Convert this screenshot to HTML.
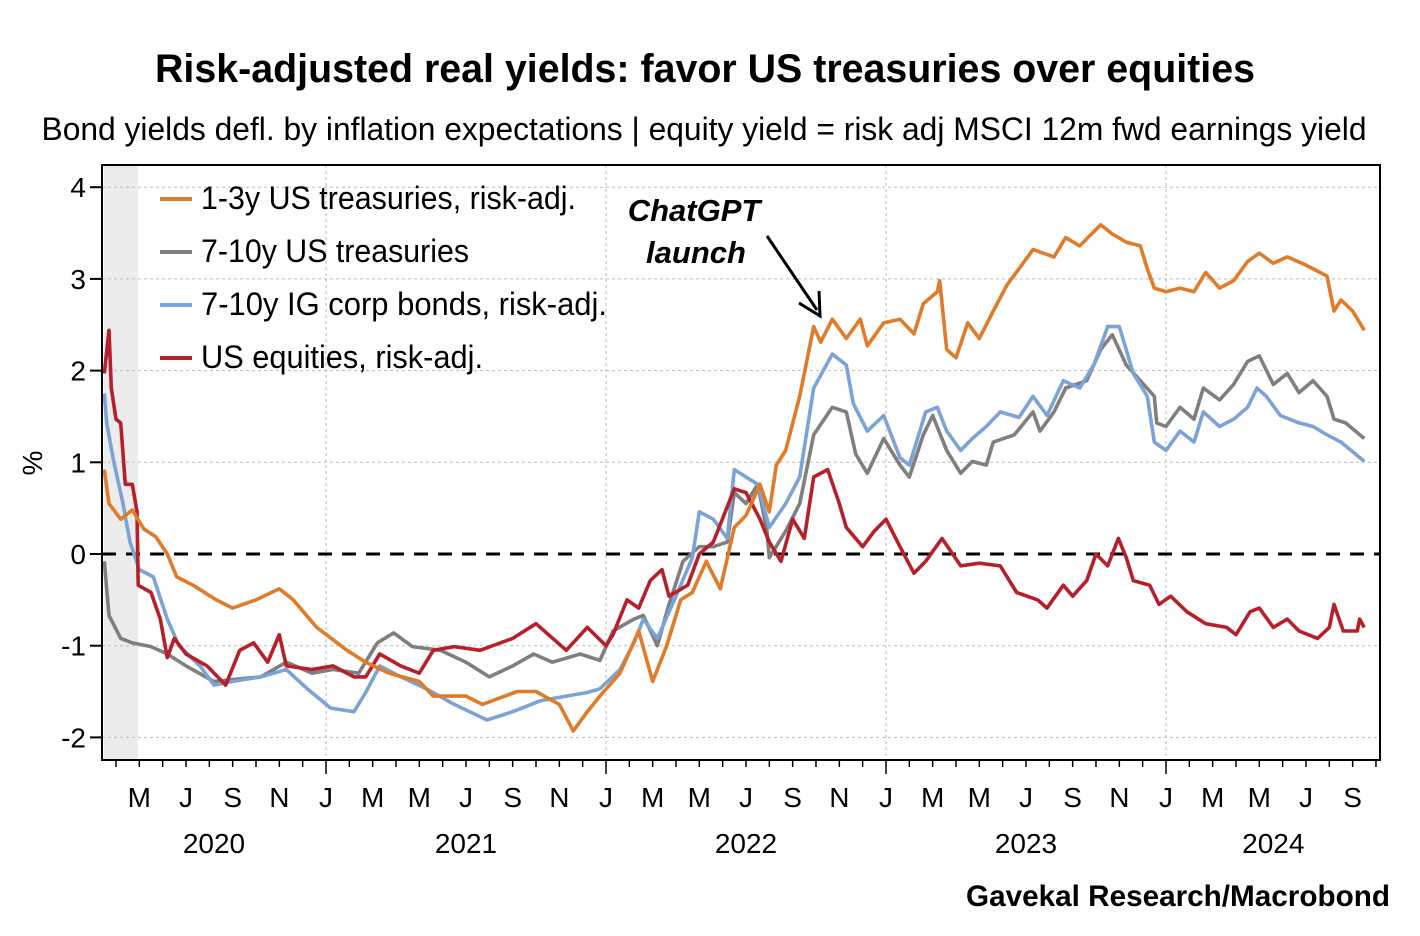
<!DOCTYPE html>
<html><head><meta charset="utf-8">
<style>
html,body{margin:0;padding:0;background:#fff;}
svg{display:block;font-family:"Liberation Sans",sans-serif;}
</style></head>
<body>
<svg id="chart" width="1420" height="936" viewBox="0 0 1420 936" xmlns="http://www.w3.org/2000/svg">
  <text x="705" y="82" text-anchor="middle" font-size="40" font-weight="bold" textLength="1100" lengthAdjust="spacingAndGlyphs">Risk-adjusted real yields: favor US treasuries over equities</text>
  <text x="704" y="140" text-anchor="middle" font-size="32" textLength="1325" lengthAdjust="spacingAndGlyphs">Bond yields defl. by inflation expectations | equity yield = risk adj MSCI 12m fwd earnings yield</text>
  <rect x="104" y="166" width="34" height="593" fill="#ececec"/>
  <g id="grid"></g>
  <g id="axes"></g>
  <g id="series"></g>
  <rect x="102" y="165" width="1278" height="595" fill="none" stroke="#000" stroke-width="2"/>
  <text transform="translate(42,463) rotate(-90)" text-anchor="middle" font-size="28">%</text>
  <g font-size="32">
    <g><line x1="160" y1="199" x2="192" y2="199" stroke="#e07b2a" stroke-width="4"/><text x="201" y="209" textLength="375" lengthAdjust="spacingAndGlyphs">1-3y US treasuries, risk-adj.</text></g>
    <g><line x1="160" y1="252" x2="192" y2="252" stroke="#7f7f7f" stroke-width="4"/><text x="201" y="262" textLength="268" lengthAdjust="spacingAndGlyphs">7-10y US treasuries</text></g>
    <g><line x1="160" y1="305" x2="192" y2="305" stroke="#7ba3d6" stroke-width="4"/><text x="201" y="315" textLength="406" lengthAdjust="spacingAndGlyphs">7-10y IG corp bonds, risk-adj.</text></g>
    <g><line x1="160" y1="358" x2="192" y2="358" stroke="#b5202a" stroke-width="4"/><text x="201" y="368" textLength="282" lengthAdjust="spacingAndGlyphs">US equities, risk-adj.</text></g>
  </g>
  <g>
    <text x="694" y="221" text-anchor="middle" font-size="31" font-weight="bold" font-style="italic">ChatGPT</text>
    <text x="696" y="263" text-anchor="middle" font-size="31" font-weight="bold" font-style="italic">launch</text>
    <line x1="767" y1="236" x2="817" y2="310" stroke="#000" stroke-width="3"/>
    <polyline points="799,303 820,316 819,291" fill="none" stroke="#000" stroke-width="3"/>
  </g>
  <text x="1390" y="906" text-anchor="end" font-size="30" font-weight="bold" textLength="424" lengthAdjust="spacingAndGlyphs">Gavekal Research/Macrobond</text>
</svg>
<script>
// months since Jan 2020
const orangeT = [2.5,2.7,3.2,3.7,4.2,4.7,5.2,5.6,6.3,7.3,8.0,9.0,10.0,10.6,11.6,12.9,13.7,14.7,16.0,16.6,18.0,18.7,20.2,21.0,22.0,22.6,23.2,23.74,24.6,25.4,26.0,26.6,27.2,27.7,28.3,28.9,29.5,30.0,30.6,31.0,31.3,31.7,32.3,32.9,33.2,33.7,34.3,34.9,35.2,35.9,36.6,37.2,37.6,38.2,38.3,38.6,39.0,39.5,40.0,40.6,41.2,41.7,42.3,43.2,43.7,44.3,45.2,45.7,46.3,46.9,47.2,47.5,48.0,48.6,49.2,49.7,50.3,50.9,51.5,52.0,52.6,53.2,54.0,54.9,55.2,55.5,56.0,56.5];
const orangeV = [0.92,0.55,0.38,0.48,0.27,0.19,0.0,-0.25,-0.34,-0.5,-0.59,-0.5,-0.38,-0.5,-0.8,-1.05,-1.18,-1.3,-1.39,-1.55,-1.55,-1.64,-1.5,-1.5,-1.64,-1.93,-1.72,-1.55,-1.3,-0.84,-1.39,-1.0,-0.5,-0.42,-0.08,-0.38,0.29,0.42,0.76,0.46,0.97,1.13,1.72,2.48,2.31,2.56,2.35,2.56,2.27,2.52,2.56,2.4,2.73,2.86,2.98,2.23,2.14,2.52,2.35,2.65,2.94,3.11,3.32,3.24,3.45,3.36,3.59,3.49,3.4,3.36,3.11,2.9,2.86,2.9,2.86,3.07,2.9,2.98,3.19,3.28,3.17,3.24,3.15,3.03,2.65,2.77,2.65,2.44];
const greyT = [2.5,2.7,3.2,3.7,4.5,5.2,6.0,7.2,8.0,9.2,10.3,11.4,12.3,13.4,14.2,14.9,15.7,16.9,18.0,19.0,20.0,20.9,21.7,22.9,23.74,24.3,25.2,25.6,26.2,26.7,27.3,28.0,28.6,29.2,29.5,30.0,30.5,30.9,31.0,31.7,32.3,32.9,33.7,34.3,34.7,35.2,35.9,36.6,37.0,37.6,38.0,38.6,39.2,39.7,40.3,40.6,41.5,42.3,42.6,43.2,43.7,44.6,45.2,45.7,46.3,46.9,47.5,47.6,48.0,48.6,49.2,49.6,50.3,50.9,51.5,52.0,52.6,53.2,53.7,54.3,54.9,55.2,55.7,56.5];
const greyV = [-0.08,-0.67,-0.92,-0.97,-1.01,-1.09,-1.22,-1.39,-1.37,-1.34,-1.18,-1.3,-1.26,-1.3,-0.97,-0.86,-1.01,-1.05,-1.18,-1.34,-1.22,-1.09,-1.18,-1.09,-1.16,-0.84,-0.71,-0.67,-1.0,-0.55,-0.08,0.08,0.08,0.13,0.67,0.55,0.76,0.25,-0.04,0.25,0.55,1.3,1.6,1.55,1.09,0.88,1.26,0.97,0.84,1.3,1.51,1.13,0.88,1.01,0.97,1.22,1.3,1.55,1.34,1.55,1.81,1.89,2.23,2.39,2.06,1.89,1.72,1.43,1.39,1.6,1.47,1.81,1.68,1.85,2.1,2.16,1.85,1.97,1.76,1.89,1.72,1.47,1.43,1.26];
const blueT = [2.5,2.6,2.9,3.3,3.6,4.0,4.6,5.2,5.7,6.6,7.2,8.0,9.2,10.3,11.2,12.2,13.2,13.7,14.3,15.2,16.3,17.5,18.9,20.0,21.2,22.3,23.2,23.74,24.6,25.2,25.6,26.2,27.0,27.7,28.0,28.6,29.2,29.5,30.0,30.5,31.0,31.7,32.3,32.9,33.7,34.3,34.6,35.2,35.9,36.6,37.0,37.7,38.2,38.6,39.2,39.7,40.3,40.9,41.7,42.3,42.9,43.6,44.3,44.9,45.5,46.0,46.6,47.2,47.5,48.0,48.6,49.2,49.6,50.3,50.9,51.5,51.9,52.3,52.9,53.7,54.3,54.9,55.5,56.5];
const blueV = [1.75,1.43,1.01,0.55,0.13,-0.17,-0.25,-0.71,-1.0,-1.22,-1.43,-1.39,-1.34,-1.26,-1.47,-1.68,-1.72,-1.51,-1.22,-1.34,-1.47,-1.64,-1.81,-1.72,-1.6,-1.55,-1.51,-1.47,-1.26,-0.97,-0.71,-0.92,-0.46,-0.04,0.46,0.38,0.17,0.92,0.84,0.76,0.29,0.55,0.84,1.81,2.18,2.06,1.64,1.34,1.51,1.05,0.97,1.55,1.6,1.34,1.13,1.26,1.39,1.55,1.49,1.72,1.51,1.89,1.81,2.06,2.48,2.48,1.97,1.72,1.22,1.13,1.34,1.22,1.55,1.39,1.47,1.6,1.81,1.72,1.51,1.43,1.39,1.3,1.22,1.01];
const redT = [2.5,2.7,2.8,3.0,3.2,3.4,3.7,3.9,3.95,4.5,4.9,5.2,5.5,6.0,6.9,7.7,8.3,8.9,9.5,10.0,10.3,11.4,12.3,13.2,13.7,14.3,15.2,16.0,16.6,17.5,18.6,20.0,21.0,22.3,23.2,24.0,24.3,24.9,25.4,25.9,26.4,26.7,27.5,28.0,28.6,29.5,30.0,30.6,31.0,31.5,32.0,32.5,32.9,33.5,34.0,34.3,35.0,35.5,36.0,36.6,37.2,37.7,38.4,39.2,40.0,40.9,41.6,42.5,42.9,43.6,44.0,44.6,45.0,45.5,45.96,46.3,46.6,47.3,47.7,48.2,48.9,49.7,50.6,51.0,51.6,52.0,52.6,53.2,53.7,54.5,55.0,55.2,55.6,56.2,56.3,56.5];
const redV = [1.97,2.44,1.81,1.47,1.43,0.76,0.76,0.46,-0.34,-0.42,-0.71,-1.13,-0.92,-1.09,-1.22,-1.43,-1.05,-0.97,-1.18,-0.88,-1.22,-1.26,-1.22,-1.34,-1.34,-1.09,-1.22,-1.3,-1.05,-1.01,-1.05,-0.92,-0.76,-1.05,-0.8,-1.0,-0.88,-0.5,-0.59,-0.29,-0.17,-0.46,-0.34,0.0,0.13,0.71,0.67,0.38,0.13,-0.08,0.38,0.17,0.84,0.92,0.55,0.29,0.08,0.25,0.38,0.08,-0.21,-0.08,0.17,-0.13,-0.1,-0.13,-0.42,-0.5,-0.59,-0.34,-0.46,-0.29,0.0,-0.13,0.17,-0.04,-0.29,-0.34,-0.55,-0.46,-0.63,-0.76,-0.8,-0.88,-0.63,-0.59,-0.8,-0.71,-0.84,-0.92,-0.8,-0.55,-0.84,-0.84,-0.71,-0.8];
const yTicks = [-2,-1,0,1,2,3,4];
const yearLabels = ["2020","2021","2022","2023","2024"];
const yearMonth = [7.2,18.0,30.0,42.0,52.6];

const NS = "http://www.w3.org/2000/svg";
const X0=102, X1=1380, Y0=165, Y1=760;
function xs(m){ return 46 + m*23.333; }
function ys(v){ return 554 - v*91.7; }
function mk(tag, attrs, parent){ const e=document.createElementNS(NS,tag); for(const k in attrs) e.setAttribute(k,attrs[k]); parent.appendChild(e); return e; }
const grid=document.getElementById('grid'), axes=document.getElementById('axes'), series=document.getElementById('series');

yTicks.forEach(v=>{
  const y=ys(v);
  if(v!==0){
    const g=mk('line',{x1:X0,x2:X1,y1:y,y2:y,stroke:'#bbb','stroke-width':1,'stroke-dasharray':'3,3'},grid);
    
    
  }
  const t=mk('line',{x1:X0-12,x2:X0,y1:y,y2:y,stroke:'#000','stroke-width':2},axes);
  
  
  const l=mk('text',{x:X0-16,y:y+10,'text-anchor':'end','font-size':28},axes);
  l.textContent=String(v);
  
  
});
[12,24,36,48].forEach(m=>{
  const g=mk('line',{x1:xs(m),x2:xs(m),y1:Y0,y2:Y1,stroke:'#bbb','stroke-width':1,'stroke-dasharray':'3,3'},grid);
  
  
});
const letters="JFMAMJJASOND";
for(let m=3;m<=57;m++){
  const x=xs(m); if(x<X0||x>X1) continue;
  const t=mk('line',{x1:x,x2:x,y1:Y1,y2:Y1+(m%12===0?14:7),stroke:'#000','stroke-width':1.5},axes);
  
  
  if(m%2===0 && m>=4 && m<=56){
    const l=mk('text',{x:x,y:807,'text-anchor':'middle','font-size':28},axes);
    l.textContent=letters[m%12];
    
    
  }
}
yearLabels.forEach((s,i)=>{
  const l=mk('text',{x:xs(yearMonth[i]),y:853,'text-anchor':'middle','font-size':28},axes);
  l.textContent=s;
  
  
});
const z=mk('line',{x1:X0,x2:X1,y1:ys(0),y2:ys(0),stroke:'#000','stroke-width':3,'stroke-dasharray':'14,10'},grid);



function drawLine(T,V,color,name){
  const pts=T.map((m,i)=>xs(m).toFixed(1)+','+ys(V[i]).toFixed(1)).join(' ');
  const p=mk('polyline',{points:pts,fill:'none',stroke:color,'stroke-width':3.6,'stroke-linejoin':'round'},series);
  
  
}
drawLine(greyT,greyV,'#7f7f7f','line-7-10y-treasuries');
drawLine(blueT,blueV,'#7ba3d6','line-ig-corp-bonds');
drawLine(redT,redV,'#b5202a','line-us-equities');
drawLine(orangeT,orangeV,'#e07b2a','line-1-3y-treasuries');
</script>
</body></html>
